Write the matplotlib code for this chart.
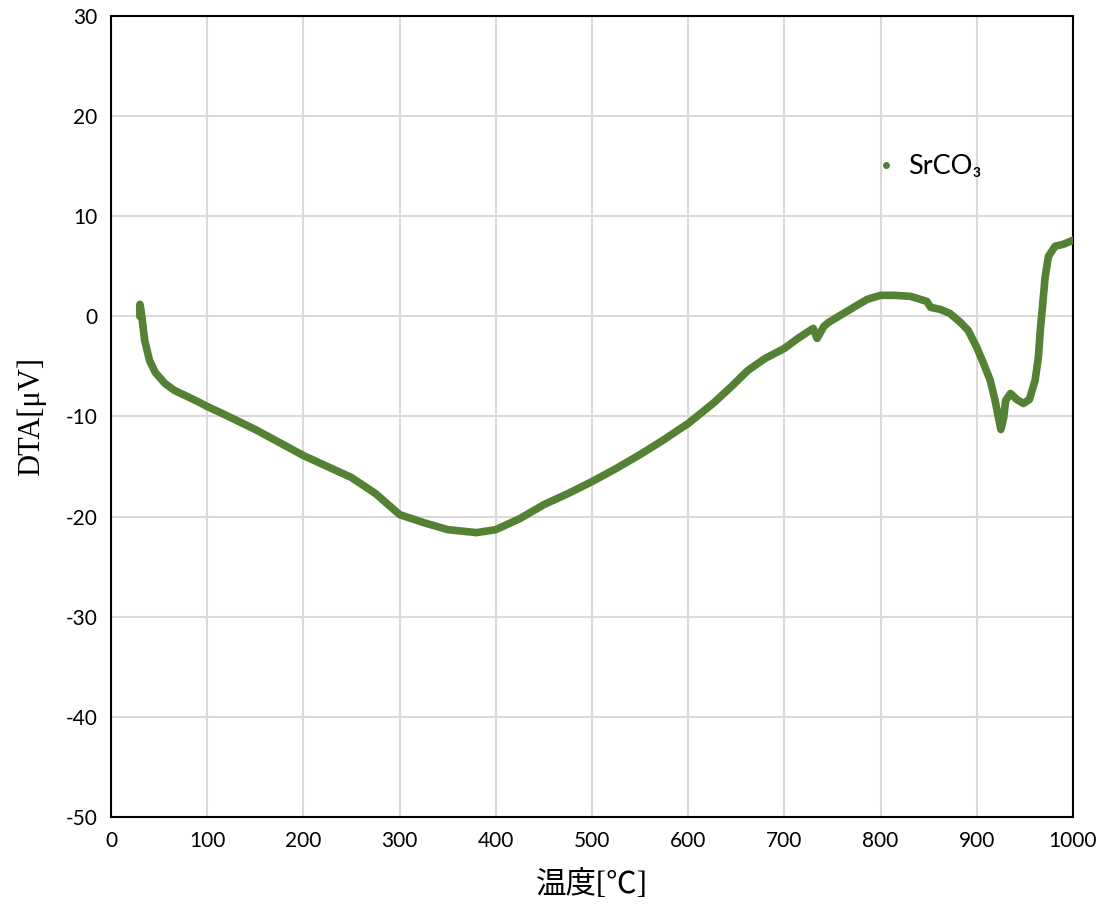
import matplotlib
matplotlib.use("Agg")
import matplotlib.pyplot as plt
from matplotlib.lines import Line2D

plt.rcParams['axes.unicode_minus'] = False

temp = [30, 30, 30.5, 32, 35, 40, 46, 56, 66, 77, 90, 100, 120, 150, 175, 200, 225, 250,
        275, 300, 325, 350, 380, 400, 425, 450, 475, 500, 525, 550, 575, 592, 600, 627,
        645, 662, 680, 700, 714, 730, 734, 741, 746, 765, 786, 800, 815, 831, 848, 852,
        862, 872, 883, 891, 900, 907, 914, 919, 922.5, 925, 928, 930, 935, 941.6, 948.5,
        954.7, 960.6, 964, 966, 968.6, 971, 974.5, 981.4, 990, 1000]
dta = [0.0, 1.2, 1.0, 0.0, -2.4, -4.4, -5.6, -6.7, -7.4, -7.9, -8.5, -9.0, -9.9, -11.3,
       -12.6, -13.9, -15.0, -16.1, -17.7, -19.8, -20.6, -21.3, -21.6, -21.3, -20.2, -18.8,
       -17.7, -16.5, -15.2, -13.8, -12.3, -11.2, -10.7, -8.6, -7.0, -5.4, -4.2, -3.2, -2.2,
       -1.2, -2.2, -1.0, -0.6, 0.5, 1.7, 2.1, 2.1, 2.0, 1.5, 0.9,
       0.7, 0.3, -0.6, -1.4, -3.1, -4.7, -6.4, -8.4, -10.1, -11.3, -10.1, -8.4, -7.7, -8.3,
       -8.7, -8.3, -6.4, -4.1, -1.4, 1.3, 3.9, 6.0, 7.0, 7.2, 7.6]

series_name = "SrCO\u2083"
green = "#548235"

fig = plt.figure(figsize=(11.08, 9.19), dpi=100)
ax = fig.add_axes([0.1002, 0.111, 0.8682, 0.8716])

ax.plot(temp, dta, color=green, lw=5.5, solid_capstyle="round", solid_joinstyle="round", zorder=3)

ax.set_xlim(0, 1000)
ax.set_ylim(-50, 30)
ax.set_xticks(range(0, 1001, 100))
ax.set_yticks(range(-50, 31, 10))
ax.grid(True, color="#d9d9d9", lw=1.5, zorder=0)
ax.set_axisbelow(True)
for s in ax.spines.values():
    s.set_color("black")
    s.set_linewidth(1.5)
ax.tick_params(length=0, pad=10, labelsize=15)
for lab in ax.get_xticklabels() + ax.get_yticklabels():
    lab.set_family(["Lato", "DejaVu Sans"])

ax.set_xlabel("温度[℃]", family=["Liberation Serif", "Noto Sans CJK JP"], fontsize=22, labelpad=14)
ax.set_ylabel("DTA[μV]", family=["Liberation Serif", "DejaVu Serif"], fontsize=22, labelpad=14)

handle = Line2D([], [], color=green, marker="o", ls="none", markersize=4)
leg = ax.legend([handle], [series_name], loc="center", bbox_to_anchor=(0.848, 0.812),
                frameon=False, handletextpad=0.3, handlelength=1.0,
                prop={"family": ["Lato", "DejaVu Sans"], "size": 19.5})

fig.savefig("out.png", dpi=100)
